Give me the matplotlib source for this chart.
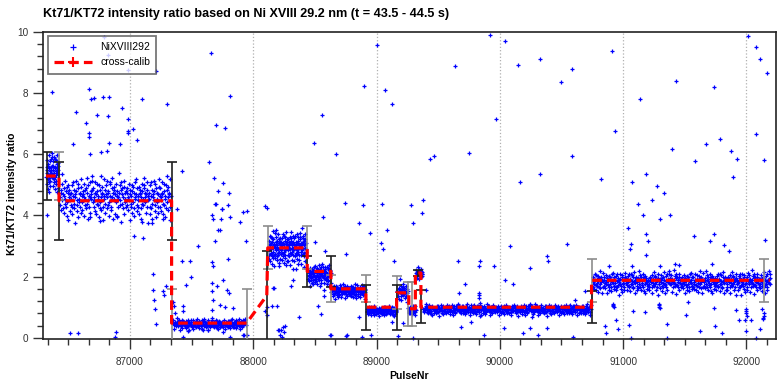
import numpy as np
import matplotlib
matplotlib.use("Agg")
import matplotlib.pyplot as plt
from matplotlib.lines import Line2D

plt.rcParams['font.family'] = ['Liberation Sans', 'DejaVu Sans']

title = "Kt71/KT72 intensity ratio based on Ni XVIII 29.2 nm (t = 43.5 - 44.5 s)"
ylabel = "Kt71/KT72 intensity ratio"
xlabel = "PulseNr"
series_label = "NiXVIII292"
calib_label = "cross-calib"

# ---- per-pulse scatter codes (base-36 character = offset steps around a band level, 'i' = level)
code_rows = [
    "hc9mkfwqjan7idgsbl5oe2pkhm8fjc",
    "kg6pbiramd0jhslfc8qn4egkjb7oti",
    "e9ljqh5cmgnaukd3fpib7rhjlgvsme",
    "nbhf8krj6dqlcgi4pamev9hojk2bti",
    "gmd7jphsaclk5eriqf9bnhu3kgomj6",
    "jqe4ilbhgkxfpcmr1dnjah6sokgelb",
    "cnk9ghqf2mjdibp7leoak5rhgjtc8n",
    "ifb6omkjha3qdlgcupnekh7jbrm0fi",
]

# ---- dense bands of the NiXVIII292 series
band_start = [86322, 86432, 87350, 88125, 88445, 88640, 88920, 89170, 89258, 89322, 89380, 90752]
band_end   = [86420, 87330, 87940, 88430, 88630, 88910, 89160, 89252, 89318, 89370, 90740, 92195]
band_level = [5.45, 4.64, 0.47, 2.98, 2.08, 1.55, 0.90, 1.52, 0.92, 2.12, 0.94, 1.85]
band_step  = [0.045, 0.05, 0.012, 0.04, 0.025, 0.015, 0.011, 0.02, 0.010, 0.012, 0.012, 0.025]
band_rows  = [
    [2, 4],
    [0, 1, 2, 3, 4, 5, 6, 7, 1, 3],
    [5, 1, 7, 0, 6, 2],
    [3, 0, 4, 7, 1, 5],
    [6, 2, 4],
    [1, 5, 3, 7],
    [4, 6, 0],
    [7],
    [3],
    [5],
    [0, 1, 2, 3, 4, 5, 6, 7, 2, 5, 1, 6, 4, 3],
    [3, 6, 1, 4, 0, 7, 2, 5, 6, 3, 0, 4, 7, 1, 5, 2],
]

# ---- scattered single pulses of the NiXVIII292 series
out_x = [86789, 86824, 87657, 86986, 87211, 86365, 86667, 86684, 86710, 86784, 86832, 87100, 87303,
         86932, 86562, 86735, 86824, 86640, 86981, 86981, 87027, 86667, 86667, 87697, 87770, 87811,
         86540, 86676, 86829, 86919, 87054, 86762, 86816, 86986,
         86329, 86676, 86757, 86897, 87095, 87181, 87265, 87378, 87108, 87032,
         87419, 87643, 87681, 87711, 87757, 87803, 87662, 87743, 87671, 87735, 87689, 87711, 87697,
         87792, 87743, 87811, 87892, 87946, 87919, 87941, 87730, 87689, 87554, 87797, 87419, 87486,
         87662, 87676, 87492, 87454, 87757, 87662, 87703, 87784, 87803, 87662, 87670, 87770, 87838,
         87730, 87662, 87292, 87270, 87276, 87351, 87357, 87365, 87432, 87432, 87189, 87189, 87195,
         87203, 87211, 87432, 87919, 87946,
         86513, 86576, 86886, 86878, 87473, 87595, 87630, 87751, 87811, 87925, 88211, 88216, 88230,
         88249, 88622, 88757, 88879, 88955, 89177,
         88108, 88095, 88095, 88108, 88114, 88203, 88257, 88189, 88168, 88305, 88744, 88892, 88562,
         88860, 89041, 89087, 88946, 89279, 89298, 89373, 89370, 88749, 88581, 88500, 89033, 89049,
         89141, 88373, 88547, 88527, 88860, 88627, 88752, 89123, 89298, 88162, 88149, 88222, 88243,
         88319, 88627, 88573, 88573, 89400, 89190,
         89662, 89838, 89833, 89955, 89717, 89671, 90081, 90546, 90384, 90392, 90244, 90041, 90108,
         89682, 89763, 89838, 89873, 90036, 90185, 90244, 90311, 90379, 90265, 90590, 90690, 89217,
         89835, 89835, 89838, 89833,
         91063, 91204, 91055, 91185, 91574, 91736, 91704, 91817, 91860, 92152, 91419, 91455, 91298,
         90887, 91720, 91076, 90609, 91528, 91514, 91352, 91176, 91082, 91049, 90960, 90852, 90860,
         90946, 91060, 91355, 91622, 91744, 91799, 91736, 91915, 91942, 91988, 92036, 92000, 92000,
         92077, 92109, 92130, 92135, 92144,
         90915, 90920, 90925, 90918, 91290, 91295, 91300, 91293, 92000, 92003, 91998, 92138, 92140,
         88897, 89003, 89919, 90041, 90146, 90325, 90495, 90584, 90909, 91136, 91428, 91736, 92012,
         92077, 92109, 92166, 89433, 89465, 89635, 89068, 89125, 89749, 89968, 90162, 90325, 90584,
         90819, 90933, 91071, 91185, 91274, 91331, 91396, 91582, 91671, 91785, 91923, 92077, 91890,
         91874, 92141, 91160, 91233, 91120, 91298, 91039, 91380, 91185, 88492, 88671, 88557]
out_y = [9.85, 9.25, 9.31, 8.75, 8.73, 8.04, 8.12, 7.80, 7.85, 7.89, 7.86, 7.80, 7.66,
         7.53, 7.40, 7.28, 7.25, 7.04, 7.15, 6.75, 6.82, 6.69, 6.57, 6.96, 6.85, 7.91,
         6.35, 6.00, 6.38, 6.35, 6.47, 6.06, 6.11, 6.71,
         4.01, 3.96, 3.81, 3.98, 3.79, 3.90, 3.89, 4.22, 3.27, 3.34,
         5.45, 5.75, 5.24, 4.80, 5.07, 4.74, 4.03, 4.22, 3.89, 3.89, 4.36, 3.54, 4.38,
         4.33, 4.20, 3.94, 3.78, 4.16, 4.12, 3.16, 3.52, 3.15, 2.99, 2.59, 2.51, 2.51,
         2.49, 2.36, 1.99, 1.71, 1.90, 1.79, 1.68, 1.57, 1.47, 1.52, 1.22, 1.00, 0.97,
         1.08, 0.92, 1.70, 1.54, 1.41, 1.16, 1.03, 0.81, 1.03, 0.89, 2.07, 1.57, 1.25,
         0.94, 0.46, 0.04, 0.10, 0.08,
         0.15, 0.15, 0.20, 0.02, 0.23, 0.24, 0.24, 0.20, 0.04, 0.10, 0.24, 0.10, 0.02,
         0.20, 0.10, 0.08, 0.02, 0.10, 0.07,
         4.25, 4.30, 0.86, 0.75, 1.00, 0.26, 0.37, 1.03, 1.63, 1.70, 4.42, 4.33, 3.96,
         3.76, 4.39, 3.52, 3.43, 4.33, 3.76, 4.50, 4.09, 2.74, 2.85, 3.13, 3.10, 2.89,
         2.50, 0.68, 0.79, 1.05, 0.68, 0.10, 0.07, 0.50, 0.00, 1.63, 1.03, 0.26, 0.34,
         1.90, 1.49, 1.35, 1.57, 1.57, 1.92,
         2.50, 2.50, 2.36, 2.36, 1.76, 1.47, 2.99, 3.08, 2.69, 2.50, 2.29, 1.90, 1.76,
         0.35, 0.51, 0.72, 0.10, 0.32, 0.15, 0.32, 0.10, 0.32, 0.68, 0.04, 1.52, 0.48,
         1.45, 1.30, 1.15, 1.40,
         3.07, 3.16, 2.89, 2.72, 3.32, 3.38, 3.16, 3.05, 2.83, 3.21, 2.42, 2.39, 2.34,
         2.34, 2.42, 2.36, 1.22, 1.16, 0.75, 0.45, 0.83, 0.89, 0.43, 0.30, 0.37, 0.15,
         0.59, 0.00, 0.00, 0.23, 0.37, 0.17, 0.97, 0.92, 0.59, 0.59, 0.59, 0.94, 0.21,
         0.00, 0.29, 0.94, 0.65, 0.81,
         1.05, 1.12, 1.00, 1.08, 1.02, 1.10, 0.98, 1.06, 0.80, 0.70, 0.88, 0.60, 0.70,
         8.23, 9.57, 9.90, 9.70, 8.92, 9.11, 8.36, 8.79, 9.38, 7.80, 8.39, 8.20, 9.87,
         9.50, 9.11, 8.66, 5.84, 5.93, 8.89, 8.10, 7.64, 6.03, 7.15, 5.11, 5.34, 5.93,
         5.18, 6.75, 5.08, 5.34, 4.95, 4.75, 6.16, 5.77, 6.33, 6.49, 5.84, 6.66, 5.25,
         6.10, 5.80, 4.03, 4.52, 4.36, 3.87, 3.60, 4.03, 3.38, 6.36, 6.00, 7.28]

# ---- cross-calibration step curve
calib_x = [86320, 86425, 86425, 87338, 87338, 87946, 88110, 88118, 88438, 88438, 88630, 88630,
           88914, 88914, 89163, 89163, 89262, 89262, 89315, 89315, 89360, 89360, 90744, 90744, 92190]
calib_y = [5.29, 5.29, 4.48, 4.48, 0.48, 0.48, 1.38, 2.94, 2.94, 2.17, 2.17, 1.60,
           1.60, 1.00, 1.00, 1.47, 1.47, 0.95, 0.95, 2.12, 2.12, 1.00, 1.00, 1.88, 1.88]

# ---- error bars of the cross-calibration
eb_x = [86330, 86425, 86425, 87338, 87338, 87946, 88108, 88118, 88438, 88438, 88630, 88630,
        88914, 88914, 89163, 89163, 89255, 89290, 89340, 89360, 90744, 90744, 92140]
eb_y = [5.29, 5.29, 4.48, 4.48, 0.48, 0.48, 1.38, 2.94, 2.94, 2.17, 2.17, 1.60,
        1.60, 1.00, 1.00, 1.47, 1.10, 1.10, 2.12, 1.02, 1.00, 1.88, 1.88]
eb_err = [0.80, 0.80, 1.27, 1.27, 1.13, 1.13, 1.47, 0.70, 0.70, 0.50, 0.50, 0.44,
          0.44, 0.74, 0.74, 0.54, 0.71, 0.71, 0.11, 0.55, 0.52, 0.71, 0.71]
eb_gray = [0, 1, 0, 0, 1, 1, 0, 1, 1, 0, 0, 1,
           1, 0, 0, 1, 1, 1, 0, 0, 0, 1, 1]

# ------------------------------------------------------------------
fig = plt.figure(figsize=(7.77, 3.8), dpi=100)
ax = fig.add_axes([43 / 777, 1 - 339 / 380, 733 / 777, 307 / 380])

xs, ys = [], []
for s, e, lvl, st, rows in zip(band_start, band_end, band_level, band_step, band_rows):
    codes = "".join(code_rows[r] for r in rows)
    d = np.array([int(c, 36) for c in codes], dtype=float)
    xs.append(np.linspace(s, e, len(d)))
    ys.append(lvl + (d - 18) * st)
xs.append(np.array(out_x, float))
ys.append(np.array(out_y, float))
px = np.concatenate(xs)
py = np.concatenate(ys)

ax.plot(px, py, ls='none', marker='+', color='#0000ff', ms=3.3, mew=0.9, zorder=2, clip_on=False)

ebx = np.array(eb_x); eby = np.array(eb_y); ebe = np.array(eb_err); ebg = np.array(eb_gray, bool)
for mask, col in [(ebg, '#8c8c8c'), (~ebg, '#1e1e1e')]:
    ax.errorbar(ebx[mask], eby[mask], yerr=ebe[mask], fmt='none', ecolor=col,
                elinewidth=1.2, capsize=3.5, capthick=1.2, zorder=3)

ax.plot(calib_x, calib_y, color='red', lw=2.3, ls=(0, (3, 1.6)), zorder=4)

ax.set_xlim(86295, 92240)
ax.set_ylim(-0.04, 10.0)
ax.set_xticks([87000, 88000, 89000, 90000, 91000, 92000])
ax.set_xticks(np.arange(86333.33, 92240, 1000 / 6), minor=True)
ax.set_yticks([0, 2, 4, 6, 8, 10])
ax.set_yticks(np.arange(0, 10.01, 0.4), minor=True)
ax.tick_params(which='both', direction='out', colors='#333333', labelsize=7.2, width=1)
ax.tick_params(which='major', length=7)
ax.tick_params(which='minor', length=4)
ax.tick_params(axis='x', pad=6)
for sp in ax.spines.values():
    sp.set_color('#222222'); sp.set_linewidth(1.2)

ax.grid(axis='x', which='major', color='#b0b0b0', ls=':', lw=0.9)
ax.set_axisbelow(True)

ax.set_xlabel(xlabel, fontsize=7.5, fontweight='bold', labelpad=3)
fig.text(0.016, 0.49, ylabel, rotation=90, fontsize=7.5, fontweight='bold', ha='center', va='center')
fig.text(43 / 777, 1 - 14 / 380, title, fontsize=9.1, fontweight='bold', ha='left', va='center')

handles = [Line2D([], [], ls='none', marker='+', color='#0000ff', ms=4, mew=0.9),
           Line2D([], [], color='red', lw=2.3, ls=(0, (3, 1.6)), marker='+', ms=7, mew=1.5)]
leg = ax.legend(handles, [series_label, calib_label], loc='upper left', bbox_to_anchor=(0.007, 0.987),
                borderaxespad=0, fontsize=7.5, frameon=True, fancybox=False, handlelength=3.6,
                handletextpad=0.8, borderpad=0.6, labelspacing=0.5)
leg.get_frame().set_edgecolor('#555555')
leg.get_frame().set_linewidth(1.3)
leg.set_zorder(10)

fig.savefig('out.png', dpi=100)
